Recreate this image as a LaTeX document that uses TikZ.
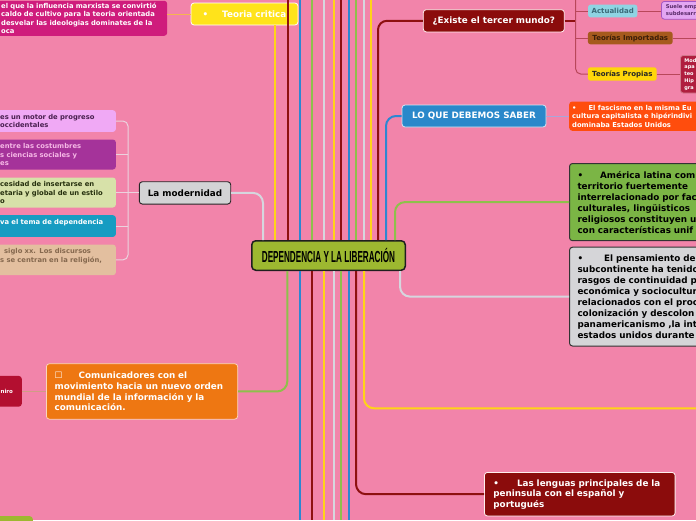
\documentclass[tikz,border=0pt]{standalone}
\usepackage{fontspec}
\setmainfont{DejaVu Sans}
\newfontfamily\titlefont{Liberation Sans}
\usetikzlibrary{positioning}

\definecolor{bgPink}{HTML}{F284AA}
\definecolor{hubGreen}{HTML}{9DB830}
\definecolor{tcYellow}{HTML}{FFE31B}
\definecolor{mgPink}{HTML}{CF1C7C}
\definecolor{exRed}{HTML}{8B0C0C}
\definecolor{acBlue}{HTML}{8FD4E3}
\definecolor{acText}{HTML}{3A6A78}
\definecolor{sueleLilac}{HTML}{E3A6F2}
\definecolor{suelePurple}{HTML}{A455C4}
\definecolor{sueleText}{HTML}{5A2A6A}
\definecolor{impBrown}{HTML}{A65A1D}
\definecolor{impText}{HTML}{3B1E08}
\definecolor{propYellow}{HTML}{FFD60A}
\definecolor{crimson}{HTML}{B01E3E}
\definecolor{sbBlue}{HTML}{2A88CA}
\definecolor{fascOrange}{HTML}{FF4D0D}
\definecolor{alGreen}{HTML}{7BB545}
\definecolor{pnGray}{HTML}{D5D5D8}
\definecolor{comOrange}{HTML}{EE7712}
\definecolor{niroRed}{HTML}{B30F30}
\definecolor{modGray}{HTML}{D3D3D5}
\definecolor{lfPink}{HTML}{F0A9F5}
\definecolor{lfPinkTxt}{HTML}{4A2050}
\definecolor{lfPurple}{HTML}{A5339A}
\definecolor{lfPurpleTxt}{HTML}{F6B8E6}
\definecolor{lfGreen}{HTML}{D7E1A9}
\definecolor{lfGreenTxt}{HTML}{26300E}
\definecolor{lfTeal}{HTML}{169CC2}
\definecolor{lfTan}{HTML}{E3BF9F}
\definecolor{lfTanTxt}{HTML}{85684E}
\definecolor{lnYellow}{HTML}{FFD417}
\definecolor{lnRed}{HTML}{8E1010}
\definecolor{lnBlue}{HTML}{2C87D2}
\definecolor{lnGreen}{HTML}{8EC04B}
\definecolor{lnGray}{HTML}{D6D6DE}
\definecolor{brRed}{HTML}{B8475A}
\definecolor{brGray}{HTML}{EBD3DE}
\definecolor{tcLink}{HTML}{F5B54F}
\definecolor{sbLink}{HTML}{A9A6DA}
\definecolor{comLink}{HTML}{CF9C84}

\begin{document}
\begin{tikzpicture}[x=1pt, y=-1pt,
  hubbox/.style={rectangle, draw=black!88, line width=1.5pt, rounded corners=4pt, fill=hubGreen, minimum width=153.5pt, minimum height=29.5pt, inner sep=0pt},
  card/.style={rectangle, rounded corners=3pt, inner sep=0pt, align=center, font=\bfseries\fontsize{8.8}{11}\selectfont},
  bigcard/.style={card, anchor=north west, align=left, draw=black!80, line width=1pt, text=black, inner xsep=8pt, inner ysep=7.5pt, text width=200pt},
  tag/.style={rectangle, rounded corners=2.5pt, inner sep=0pt, font=\bfseries\fontsize{7}{8}\selectfont},
  note/.style={rectangle, rounded corners=3pt, anchor=north west, align=left, font=\bfseries\fontsize{6.8}{8.5}\selectfont, inner xsep=6pt, inner ysep=3.5pt},
  lane/.style={line width=2pt},
  twig/.style={line width=1pt}
]
  % canvas
  \useasboundingbox (0,0) rectangle (696,520);
  \clip (0,0) rectangle (696,520);
  \fill[bgPink] (0,0) rectangle (696,520);

  % Central topic
  \node[hubbox] (hub) at (328.5,255.5) {\scalebox{0.51}[1]{\titlefont\bfseries\fontsize{16}{16}\selectfont DEPENDENCIA Y LA LIBERACIÓN}};

  % Top left
  \node[note, anchor=south west, fill=mgPink, text=white, text width=162pt, inner xsep=4pt, inner ysep=2pt] (marx) at (-3,36) {el que la influencia marxista se convirtió\\caldo de cultivo  para la teoria orientada\\desvelar las ideologias dominates de la\\oca};
  \node[card, fill=tcYellow, draw=white, line width=0.8pt, minimum width=107pt, minimum height=22pt, text=white] (teoria) at (244.5,14) {\textbullet\hspace{14pt}Teoria critica};

  % Tercer mundo
  \node[card, fill=exRed, draw=white!75!pink, line width=0.8pt, minimum width=141pt, minimum height=22.3pt, text=white] (existe) at (493.8,20.8) {¿Existe el tercer mundo?};
  \node[tag, fill=acBlue, text=acText, minimum width=49.3pt, minimum height=12.6pt] (actual) at (612.7,11) {Actualidad};
  \node[tag, fill=impBrown, text=impText, minimum width=84.7pt, minimum height=12.6pt] (importadas) at (630.3,38) {Teorías Importadas};
  \node[tag, fill=propYellow, text=black!85, minimum width=68.7pt, minimum height=13.4pt] (propias) at (622.3,74) {Teorías Propias};
  \node[note, fill=sueleLilac, draw=suelePurple, line width=0.8pt, text=sueleText, font=\bfseries\fontsize{5.3}{6.7}\selectfont, inner xsep=4.5pt, inner ysep=3.5pt, text width=40pt] (suele) at (661,1) {Suele emp\\subdesarr};
  \node[note, fill=crimson, draw=crimson!60!white, line width=0.8pt, text=white, font=\bfseries\fontsize{5}{6.7}\selectfont, inner xsep=4pt, inner ysep=3pt, text width=40pt] (rojo) at (680,55) {Mod\\apa\\teo\\Hip\\gra};

  % Lo que debemos saber
  \node[card, fill=sbBlue, draw=white!80!sbBlue, line width=0.8pt, minimum width=144pt, minimum height=22pt, text=white] (saber) at (474,116) {LO QUE DEBEMOS SABER};
  \node[note, fill=fascOrange, text=white, inner xsep=3pt, inner ysep=3.5pt, text width=200pt] (fasc) at (569,101.3) {\textbullet\hspace{12pt}El fascismo en la misma Eu\\cultura capitalista e hipérindivi\\dominaba Estados Unidos};

  % Right cards
  \node[bigcard, fill=alGreen] (latina) at (569,163) {\textbullet\hspace{17pt}América latina com\\territorio fuertemente\\interrelacionado por fac\\culturales, lingüisticos\\religiosos constituyen u\\con características unif};
  \node[bigcard, fill=pnGray] (pensar) at (569,246.7) {\textbullet\hspace{21pt}El pensamiento de\\subcontinente ha tenido\\rasgos de continuidad p\\económica y sociocultur\\relacionados con el proc\\colonización y descolon\\panamericanismo ,la int\\estados unidos durante};
  \node[card, anchor=north west, align=left, fill=exRed, draw=white!75!pink, line width=0.8pt, text=white, inner xsep=9pt, inner ysep=7pt, text width=172.7pt, font=\bfseries\fontsize{8.8}{10.5}\selectfont] (lenguas) at (484,472) {\textbullet\hspace{18pt}Las lenguas principales de la\\peninsula con el español y\\portugués};

  % La modernidad
  \node[card, fill=modGray, draw=black!85, line width=0.9pt, minimum width=91.4pt, minimum height=22.3pt] (moder) at (185,192.9) {La modernidad};
  \node[note, fill=lfPink, text=lfPinkTxt, text width=109.7pt, minimum height=21.7pt] (leftA) at (-6,110) {es un motor de progreso\\occidentales};
  \node[note, fill=lfPurple, text=lfPurpleTxt, text width=109.7pt, minimum height=30pt] (leftB) at (-6,139.3) {entre las costumbres\\s ciencias sociales y\\es};
  \node[note, fill=lfGreen, text=lfGreenTxt, text width=109.7pt, minimum height=30pt] (leftC) at (-6,177.3) {cesidad de insertarse en\\etaria y global de un estilo\\o};
  \node[note, fill=lfTeal, text=white, text width=109.7pt, minimum height=21.7pt] (leftD) at (-6,215) {va el tema de dependencia\\\mbox{}};
  \node[note, fill=lfTan, text=lfTanTxt, text width=109.7pt, minimum height=30.7pt] (leftE) at (-6,244.3) {\hspace*{4pt}siglo xx. Los discursos\\s se centran en la religión,\\\mbox{}};

  % Comunicadores
  \node[card, anchor=north west, align=left, fill=comOrange, draw=white!70!comOrange, line width=0.8pt, text=white, inner xsep=8.3pt, inner ysep=8.2pt, text width=174.7pt, font=\bfseries\fontsize{8.8}{10.75}\selectfont] (comun) at (46,363.3) {☐\hspace{16pt}Comunicadores con el\\movimiento hacia un nuevo orden\\mundial de la información y la\\comunicación.};
  \node[card, anchor=east, fill=niroRed, minimum width=30pt, minimum height=30.7pt, text=white, font=\bfseries\fontsize{5.5}{6}\selectfont] (niro) at (22,391.3) {niro};

  % bottom left stub
  \node[card, anchor=north east, fill=hubGreen, minimum width=45pt, minimum height=20pt] (stub) at (33,516) {};

  % Lanes from the hub
  \foreach \x/\c [count=\i] in {287.7/lnRed, 300/lnBlue, 312/lnGreen, 324/lnGray, 334/lnYellow, 341/lnRed, 349/lnBlue, 356/lnGreen, 364/lnGray, 371/lnYellow} {
    \coordinate (top\i) at (\x,0);
    \draw[lane, \c] (hub.north -| top\i) -- (top\i);
  }
  \foreach \x/\c [count=\i] in {300/lnBlue, 312/lnRed, 324/lnYellow, 334/lnGray, 341/lnGreen, 349/lnBlue} {
    \coordinate (bot\i) at (\x,520);
    \draw[lane, \c] (hub.south -| bot\i) -- (bot\i);
  }
  \coordinate (xT) at (275,0);
  \coordinate (xE) at (378,0);
  \coordinate (xS) at (386,0);
  \coordinate (xA) at (395,0);
  \coordinate (xP) at (400,0);
  \coordinate (xM) at (263,0);
  \coordinate (xC) at (287.3,0);
  \coordinate (xL) at (356,0);
  \coordinate (xY) at (364,0);
  \coordinate (yEnd) at (696,408.3);
  \draw[lane, lnYellow] (hub.north -| xT) -- (teoria.south -| xT);
  \draw[lane, lnRed, rounded corners=9pt] (hub.north -| xE) |- (existe.west);
  \draw[lane, lnBlue, rounded corners=10pt] (hub.north -| xS) |- (saber.west);
  \draw[lane, lnGreen, rounded corners=10pt] (hub.north -| xA) |- (latina.west);
  \draw[lane, lnGray, rounded corners=10pt] (hub.south -| xP) |- (pensar.west);
  \draw[lane, lnGray, rounded corners=10pt] (hub.north -| xM) |- (moder.east);
  \draw[lane, lnGreen, rounded corners=10pt] (hub.south -| xC) |- (comun.east);
  \draw[lane, lnRed, rounded corners=10pt] (hub.south -| xL) |- (lenguas.west);
  \draw[lane, lnYellow, rounded corners=10pt] (hub.south -| xY) |- (yEnd);

  % Tercer mundo branches
  \coordinate (eb) at (575.7,0);
  \coordinate (impEnd) at (696,38);
  \draw[lane, lnRed] (existe.east) -- (existe.east -| eb);
  \draw[twig, brRed, rounded corners=5pt] (eb) |- (propias.west);
  \draw[twig, brRed] (actual.west -| eb) -- (actual.west);
  \draw[twig, brRed] (importadas.west -| eb) -- (importadas.west);
  \draw[twig, brRed] (actual.east) -- (suele.west |- actual.east);
  \draw[twig, brRed] (importadas.east) -- (impEnd);
  \draw[twig, brRed] (propias.east) -- (rojo.west |- propias.east);

  % La modernidad branches
  \coordinate (mb) at (128,0);
  \draw[twig, brGray] (moder.west) -- (moder.west -| mb);
  \draw[twig, brGray, rounded corners=5pt] (leftA.east) -| (mb |- leftC.east) |- (leftE.east);
  \foreach \n in {leftB, leftC, leftD}
    \draw[twig, brGray] (\n.east) -- (\n.east -| mb);

  % Small links
  \draw[twig, tcLink] (teoria.west) -- (teoria.west -| marx.east);
  \draw[twig, sbLink] (saber.east) -- (fasc.west |- saber.east);
  \draw[twig, comLink] (comun.west) -- (niro.east |- comun.west);
\end{tikzpicture}
\end{document}
